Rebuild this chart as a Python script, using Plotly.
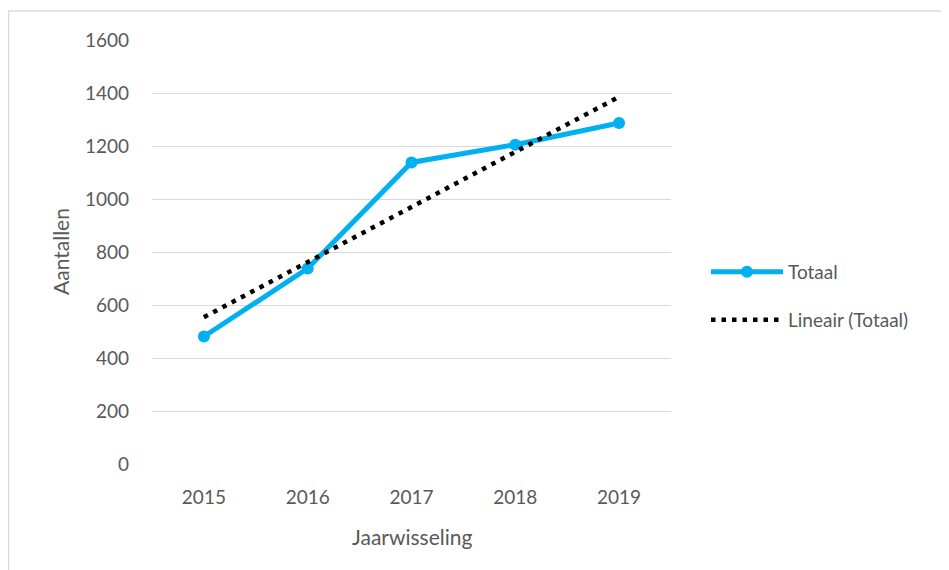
import numpy as np
import plotly.graph_objects as go

years = ["2015", "2016", "2017", "2018", "2019"]
totaal = [481, 738, 1138, 1205, 1287]
y_ticks = [0, 200, 400, 600, 800, 1000, 1200, 1400, 1600]

# Excel-style linear trendline of the series
xi = np.arange(len(totaal))
slope, intercept = np.polyfit(xi, totaal, 1)
trend = list(intercept + slope * xi)

TXT = "#595959"
FONT = "Lato"
W, H = 949, 570
OFF = 8  # page body offset in the browser
L, T = 152 - OFF, 40 - OFF
pw, ph = 519, 424
R, B = W - L - pw, H - T - ph

def px(x):
    return (x - OFF - L) / pw

def py(y):
    return (T + ph - (y - OFF)) / ph

fig = go.Figure()
fig.add_trace(go.Scatter(
    x=years, y=totaal, name="Totaal", mode="lines+markers",
    line=dict(color="#00B0F0", width=5),
    marker=dict(color="#00B0F0", size=12),
    legend="legend",
))
fig.add_trace(go.Scatter(
    x=years, y=trend, name="Lineair (Totaal)", mode="lines",
    line=dict(color="#000000", width=4.5, dash="4.5px,6px"),
    legend="legend2",
))

fig.update_layout(
    width=W, height=H,
    margin=dict(l=L, r=R, t=T, b=B),
    paper_bgcolor="white", plot_bgcolor="white",
    font=dict(family=FONT, color=TXT, size=19),
    xaxis=dict(
        type="category", range=[-0.5, 4.5], showgrid=False, zeroline=False,
        showline=False, ticks="", ticklabelstandoff=20,
        tickfont=dict(size=19, color=TXT, family=FONT),
    ),
    yaxis=dict(
        range=[0, 1600], tickvals=y_ticks, showgrid=True, gridcolor="#D9D9D9",
        gridwidth=1.2, zeroline=False, showline=False, ticks="",
        ticklabelstandoff=22, tickfont=dict(size=19, color=TXT, family=FONT),
    ),
    legend=dict(
        x=px(706), y=py(272), xanchor="left", yanchor="middle",
        bgcolor="rgba(0,0,0,0)", font=dict(size=19, color=TXT, family=FONT),
        itemwidth=72,
    ),
    legend2=dict(
        x=px(706), y=py(320), xanchor="left", yanchor="middle",
        bgcolor="rgba(0,0,0,0)", font=dict(size=19, color=TXT, family=FONT),
        itemwidth=72,
    ),
    annotations=[
        dict(text="Jaarwisseling", xref="paper", yref="paper", x=px(412), y=py(536),
             xanchor="center", yanchor="middle", showarrow=False,
             font=dict(size=21, color=TXT, family=FONT)),
        dict(text="Aantallen", xref="paper", yref="paper", x=px(60), y=py(252),
             xanchor="center", yanchor="middle", showarrow=False, textangle=-90,
             font=dict(size=21, color=TXT, family=FONT)),
    ],
    shapes=[
        dict(type="rect", xref="paper", yref="paper",
             x0=px(8.5), x1=px(1100), y0=py(700), y1=py(11),
             line=dict(color="#D9D9D9", width=1.5), layer="below"),
    ],
    showlegend=True,
)

fig.write_html("out.html")
